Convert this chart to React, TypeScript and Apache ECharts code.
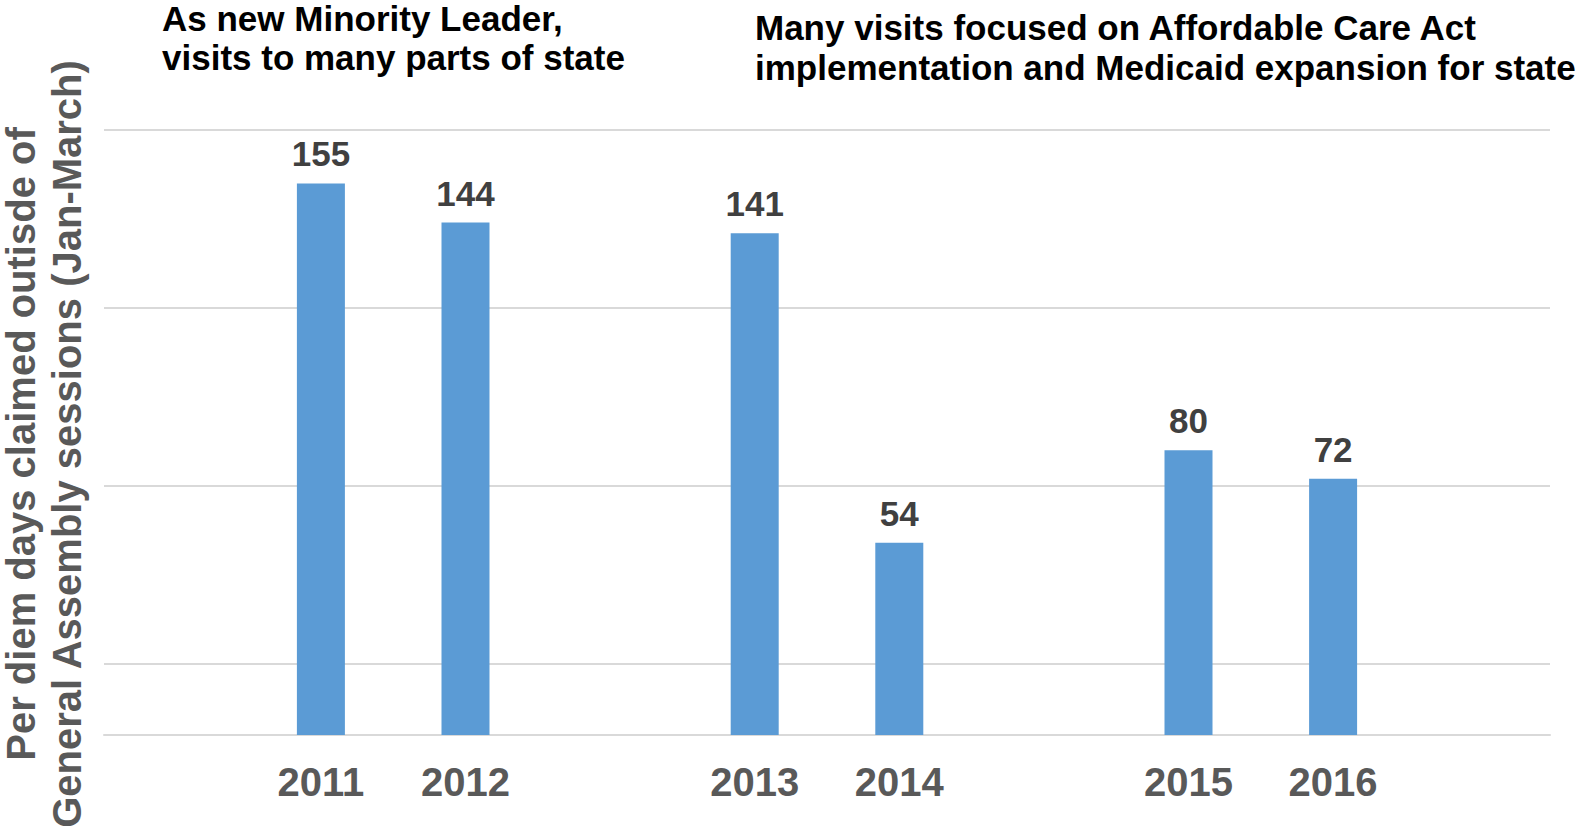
import React, { useEffect, useRef } from "react";
import * as echarts from "echarts";

// Data
const years = ["2011", "2012", "2013", "2014", "2015", "2016"];
const perDiemDays = [155, 144, 141, 54, 80, 72];
// chart slots: blank slot before, between pairs and after
const slotPattern = ["gap", 0, 1, "gap", 2, 3, "gap", 4, 5, "gap"];
const yMin = 0;
const yMax = 170;
// horizontal gridlines of the reference
const gridLineValues = [20, 70, 120, 170];

const yAxisTitle = "Per diem days claimed outisde of\nGeneral Assembly sessions (Jan-March)";
const noteLeftLines = ["As new Minority Leader,", "visits to many parts of state"];
const noteRight = "Many visits focused on Affordable Care Act\nimplementation and Medicaid expansion for state";

const FONT = '"Liberation Sans", Arial, sans-serif';

export default function App() {
  const ref = useRef<HTMLDivElement>(null);
  useEffect(() => {
    if (!ref.current) return;
    const chart = echarts.init(ref.current, null, { renderer: "svg" });
    let gapCount = 0;
    const categories = slotPattern.map((s) => {
      if (s === "gap") {
        gapCount += 1;
        return " ".repeat(gapCount);
      }
      return years[s as number];
    });
    const values = slotPattern.map((s) => (s === "gap" ? null : perDiemDays[s as number]));

    const leftNoteTexts = noteLeftLines.map((line, i) => ({
      type: "text",
      x: 162,
      y: 18 + i * 39,
      style: {
        text: line,
        font: `bold 35px ${FONT}`,
        fill: "#000000",
        align: "left",
        verticalAlign: "middle",
        lineHeight: 30,
      },
    }));

    chart.setOption({
      animation: false,
      backgroundColor: "#ffffff",
      textStyle: { fontFamily: FONT },
      grid: {
        left: 104,
        right: 28,
        top: 130,
        bottom: 96,
        containLabel: false,
        outerBoundsMode: "none",
      },
      xAxis: {
        type: "category",
        data: categories,
        axisTick: { show: false },
        axisLine: { show: true, lineStyle: { color: "#d9d9d9", width: 2 } },
        axisLabel: {
          fontSize: 40,
          fontWeight: "bold",
          color: "#595959",
          fontFamily: FONT,
          margin: 27,
          interval: 0,
        },
        splitLine: { show: false },
      },
      yAxis: {
        type: "value",
        min: yMin,
        max: yMax,
        axisLabel: { show: false },
        axisLine: { show: false },
        axisTick: { show: false },
        splitLine: { show: false },
      },
      series: [
        {
          type: "bar",
          data: values,
          barWidth: 48,
          itemStyle: { color: "#5b9bd5" },
          label: {
            show: true,
            position: "top",
            distance: 12,
            fontSize: 35,
            fontWeight: "bold",
            color: "#404040",
            fontFamily: FONT,
          },
          markLine: {
            silent: true,
            symbol: ["none", "none"],
            label: { show: false },
            lineStyle: { color: "#d9d9d9", width: 2, type: "solid" },
            z: 0,
            data: gridLineValues.map((v) => ({ yAxis: v })),
          },
          z: 2,
        },
      ],
      graphic: [
        {
          type: "text",
          x: 44,
          y: 444,
          rotation: Math.PI / 2,
          style: {
            text: yAxisTitle,
            font: `bold 40px ${FONT}`,
            fill: "#595959",
            align: "center",
            verticalAlign: "middle",
            lineHeight: 46,
          },
        },
        ...leftNoteTexts,
        {
          type: "text",
          x: 755,
          y: 7,
          style: {
            text: noteRight,
            font: `bold 35px ${FONT}`,
            fill: "#000000",
            align: "left",
            verticalAlign: "top",
            lineHeight: 40,
          },
        },
      ],
    });
    return () => chart.dispose();
  }, []);
  return (
    <div
      ref={ref}
      style={{ position: "absolute", left: 0, top: 0, width: 1578, height: 831, background: "#fff" }}
    />
  );
}
